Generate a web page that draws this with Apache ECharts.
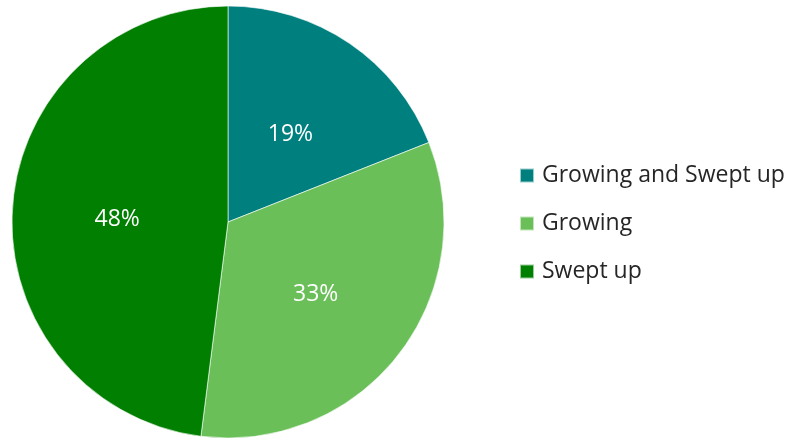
<!DOCTYPE html>
<html>
<head>
<meta charset="utf-8">
<script src="https://cdn.jsdelivr.net/npm/echarts@6/dist/echarts.min.js"></script>
<style>
  html, body { margin: 0; padding: 0; background: #fff; }
  #chart { width: 787px; height: 438px; }
</style>
</head>
<body>
<div id="chart"></div>
<script>
// Share of responses by category
const categories = ['Growing and Swept up', 'Growing', 'Swept up'];
const shares = [19, 33, 48];
const colors = ['#007f7f', '#6abf59', '#007f00'];

const chart = echarts.init(document.getElementById('chart'), null, { renderer: 'canvas' });

chart.setOption({
  animation: false,
  color: colors,
  legend: {
    orient: 'vertical',
    left: 519,
    top: 164,
    padding: 0,
    itemWidth: 14,
    itemHeight: 14,
    itemGap: 25,
    icon: 'rect',
    textStyle: {
      fontFamily: 'Open Sans',
      fontSize: 23,
      color: '#262626',
      padding: [0, 0, 0, 3]
    },
    data: categories
  },
  series: [{
    type: 'pie',
    center: [228, 222],
    radius: [0, 216],
    startAngle: 90,
    clockwise: true,
    itemStyle: { borderColor: 'rgba(255,255,255,0.6)', borderWidth: 1 },
    label: {
      show: true,
      position: 'inside',
      formatter: '{c}%',
      color: '#fff',
      fontFamily: 'Open Sans',
      fontSize: 23,
      offset: [0, 4]
    },
    labelLine: { show: false },
    emphasis: { disabled: true },
    data: categories.map((name, i) => ({ name, value: shares[i] }))
  }]
});
</script>
</body>
</html>
